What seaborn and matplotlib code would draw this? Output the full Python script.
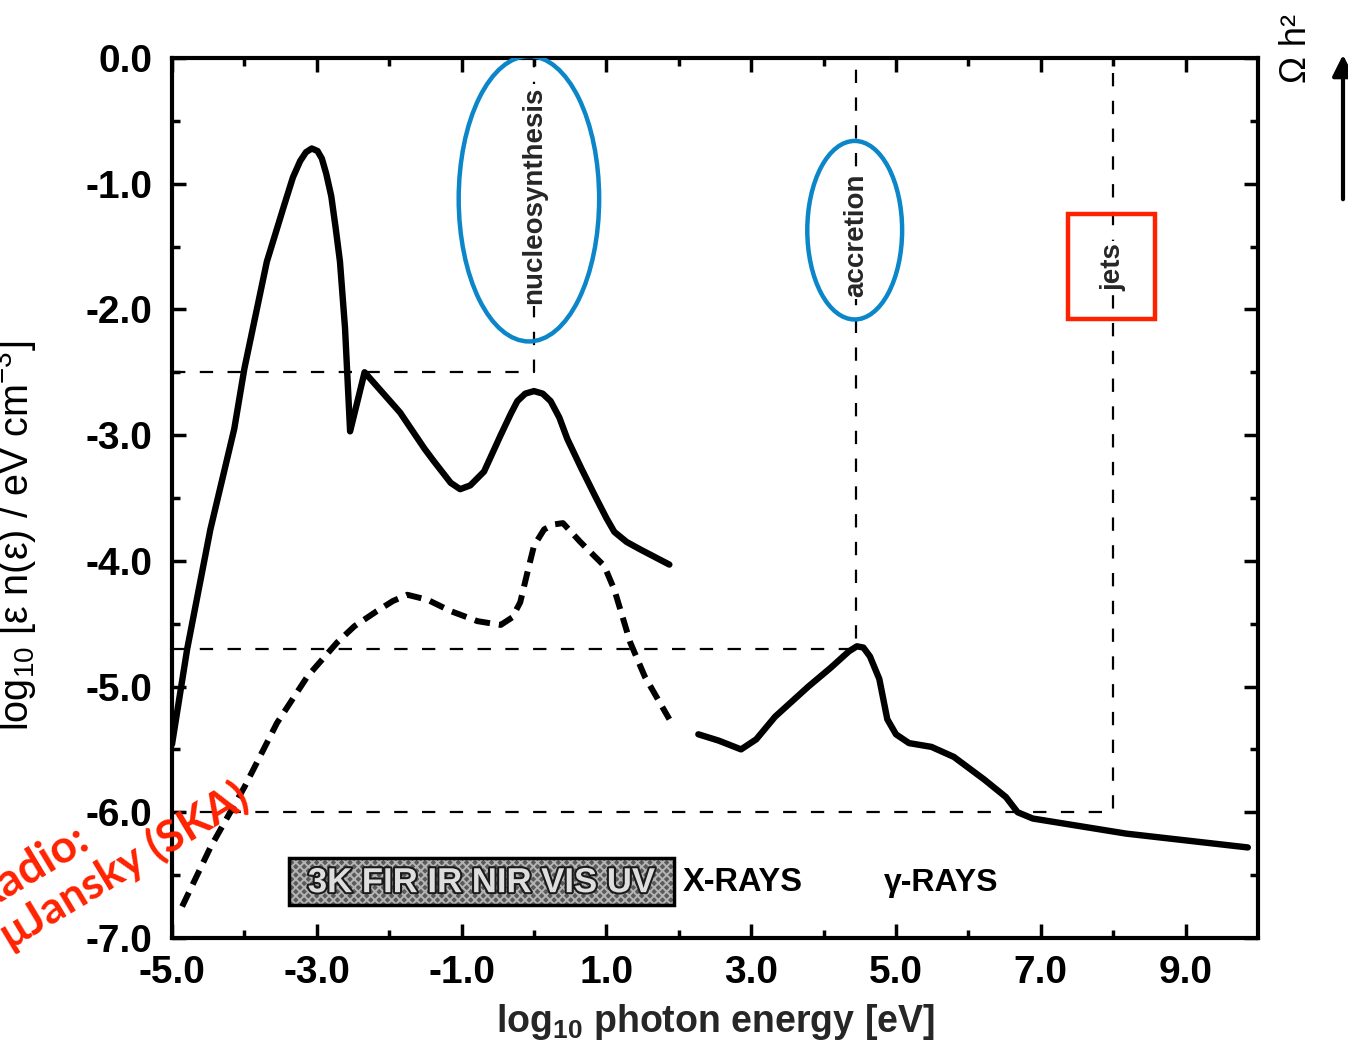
import numpy as np
import pandas as pd
import matplotlib
matplotlib.use('Agg')
import matplotlib.pyplot as plt
import seaborn as sns
from matplotlib.patches import Ellipse, Rectangle
import matplotlib.patheffects as pe

# ---------------- data ----------------
# solid curve: CMB + CIB + optical background
bg_x = [-5.0, -4.79, -4.47, -4.14, -4.0, -3.69, -3.45, -3.33, -3.23, -3.15, -3.07, -2.99,
        -2.93, -2.87, -2.80, -2.74, -2.68, -2.61, -2.54, -2.34, -1.85, -1.51, -1.38, -1.15,
        -1.02, -0.88, -0.69, -0.46, -0.32, -0.23, -0.12, 0.0, 0.12, 0.23, 0.35, 0.46, 0.65,
        0.84, 1.0, 1.11, 1.28, 1.47, 1.87]
bg_y = [-5.46, -4.70, -3.75, -2.95, -2.47, -1.62, -1.17, -0.95, -0.82, -0.75, -0.72, -0.74,
        -0.80, -0.92, -1.10, -1.35, -1.62, -2.15, -2.97, -2.50, -2.82, -3.11, -3.21, -3.38,
        -3.43, -3.40, -3.29, -3.00, -2.83, -2.73, -2.67, -2.65, -2.67, -2.73, -2.86, -3.03,
        -3.26, -3.48, -3.66, -3.77, -3.85, -3.91, -4.03]

# dashed curve
dash_x = [-4.86, -4.47, -4.0, -3.55, -3.13, -2.72, -2.48, -2.17, -1.95, -1.75, -1.47, -1.15,
          -0.78, -0.46, -0.30, -0.19, -0.09, 0.0, 0.14, 0.28, 0.40, 0.64, 0.97, 1.11, 1.33,
          1.53, 1.87]
dash_y = [-6.75, -6.28, -5.80, -5.29, -4.92, -4.65, -4.52, -4.40, -4.32, -4.27, -4.31, -4.40,
          -4.48, -4.51, -4.45, -4.33, -4.09, -3.88, -3.75, -3.71, -3.70, -3.85, -4.04, -4.23,
          -4.65, -4.92, -5.26]

# solid curve: X-ray / gamma-ray background
hi_x = [2.27, 2.55, 2.86, 3.07, 3.33, 3.79, 4.10, 4.35, 4.46, 4.55, 4.64, 4.77, 4.88, 5.00,
        5.18, 5.49, 5.80, 6.22, 6.52, 6.68, 6.89, 8.18, 9.86]
hi_y = [-5.38, -5.43, -5.50, -5.42, -5.24, -5.00, -4.85, -4.72, -4.68, -4.69, -4.76, -4.94,
        -5.26, -5.38, -5.45, -5.48, -5.56, -5.74, -5.88, -6.00, -6.05, -6.17, -6.28]

# reference (dashed) corner lines: vertical at x, horizontal at y
ref_x = [0.0, 4.45, 8.0]
ref_y = [-2.5, -4.7, -6.0]
ref_names = ['nucleosynthesis', 'accretion', 'jets']
ref_label_y = [-1.09, -1.41, -1.66]

xtick_vals = [-5, -3, -1, 1, 3, 5, 7, 9]
xtick_labels = ['-5.0', '-3.0', '-1.0', '1.0', '3.0', '5.0', '7.0', '9.0']
ytick_vals = [0, -1, -2, -3, -4, -5, -6, -7]
ytick_labels = ['0.0', '-1.0', '-2.0', '-3.0', '-4.0', '-5.0', '-6.0', '-7.0']

band_label = '3K FIR IR NIR VIS UV'
xray_label = 'X-RAYS'
gamma_label = 'γ-RAYS'

# ---------------- style ----------------
sns.set_theme(style='ticks')
plt.rcParams['font.family'] = ['Liberation Sans', 'DejaVu Sans']
plt.rcParams['mathtext.fontset'] = 'custom'
plt.rcParams['mathtext.rm'] = 'Liberation Sans'
plt.rcParams['mathtext.it'] = 'Liberation Sans:italic'
plt.rcParams['mathtext.bf'] = 'Liberation Sans:bold'
plt.rcParams['axes.unicode_minus'] = False
plt.rcParams['hatch.linewidth'] = 1.4

fig = plt.figure(figsize=(13.48, 10.52), dpi=100)
fig.patch.set_facecolor('white')
ax = fig.add_axes([0.1276, 0.1084, 0.8056, 0.8365])
ax.set_facecolor('white')

# curves
sns.lineplot(x=bg_x, y=bg_y, ax=ax, color='black', lw=4.6, sort=False, estimator=None,
             solid_joinstyle='round', solid_capstyle='round')
sns.lineplot(x=dash_x, y=dash_y, ax=ax, color='black', lw=4.3, sort=False, estimator=None)
ax.lines[-1].set_dashes([2.6, 1.5])
sns.lineplot(x=hi_x, y=hi_y, ax=ax, color='black', lw=4.6, sort=False, estimator=None,
             solid_joinstyle='round', solid_capstyle='round')

# reference corner lines
for rx, ry in zip(ref_x, ref_y):
    ln, = ax.plot([-5, rx, rx], [ry, ry, 0], color='black', lw=1.6)
    ln.set_dashes([6, 6.5])

# rotated labels on vertical lines
for rx, name, ly in zip(ref_x, ref_names, ref_label_y):
    ax.text(rx, ly, name, rotation=90, ha='center', va='center', fontsize=20,
            fontweight='bold', zorder=5,
            bbox=dict(facecolor='white', edgecolor='none', pad=1.5))

# ellipses / rectangle annotations
blue = '#0a86c9'
ax.add_patch(Ellipse((-0.07, -1.12), 1.94, 2.27, fill=False, edgecolor=blue, lw=3.2, zorder=6))
ax.add_patch(Ellipse((4.43, -1.37), 1.31, 1.42, fill=False, edgecolor=blue, lw=3.2, zorder=6))
ax.add_patch(Rectangle((7.38, -2.08), 1.2, 0.84, fill=False, edgecolor='#ff2200', lw=3.2, zorder=6))

# band box
ax.add_patch(Rectangle((-3.38, -6.74), 5.31, 0.38, facecolor='#5a5a5a', edgecolor='#b4b4b4',
                       hatch='xxxx', lw=0, zorder=3))
ax.add_patch(Rectangle((-3.38, -6.74), 5.31, 0.38, fill=False, edgecolor='black', lw=2.5, zorder=4))
ax.text(-0.72, -6.56, band_label, ha='center', va='center', fontsize=25, fontweight='bold',
        color='#dedede', zorder=5,
        path_effects=[pe.withStroke(linewidth=3, foreground='#1a1a1a')])
ax.text(2.06, -6.56, xray_label, ha='left', va='center', fontsize=23.5, fontweight='bold', color='black')
ax.text(5.63, -6.56, gamma_label, ha='center', va='center', fontsize=23, fontweight='bold', color='black')

# axes
ax.set_xlim(-5, 10)
ax.set_ylim(-7, 0)
ax.set_xticks(xtick_vals)
ax.set_xticklabels(xtick_labels)
ax.set_xticks([-4, -2, 0, 2, 4, 6, 8], minor=True)
ax.set_yticks(ytick_vals)
ax.set_yticklabels(ytick_labels)
ax.set_yticks([-6.5, -5.5, -4.5, -3.5, -2.5, -1.5, -0.5], minor=True)
ax.tick_params(which='both', direction='in', top=True, right=True, width=2.5, colors='black')
ax.tick_params(which='major', length=10)
ax.tick_params(which='minor', length=6)
ax.tick_params(axis='x', which='major', pad=12, labelsize=28)
ax.tick_params(axis='y', which='major', pad=14, labelsize=28)
for lab in ax.get_xticklabels() + ax.get_yticklabels():
    lab.set_fontweight('bold')
for sp in ax.spines.values():
    sp.set_linewidth(3)
    sp.set_color('black')
ax.set_xlabel(r'log$_\mathbf{10}$ photon energy [eV]', fontsize=27, fontweight='bold', labelpad=8)
ax.set_ylabel('')

# y label (partly cut by the figure edge, as in the original scan)
fig.text(28 / 1348, 1 - 536 / 1052, r'log$_{10}$ [ε n(ε) / eV cm$^{-3}$]', rotation=90,
         rotation_mode='anchor', ha='center', va='baseline', fontsize=28.5, color='black')

# right side Omega h^2 and arrow
fig.text(1296 / 1348, 1 - 48 / 1052, 'Ω h²', rotation=90, ha='center', va='center',
         fontsize=26, color='black')
ax.annotate('', xy=(1343, 1052 - 52), xytext=(1343, 1052 - 202), xycoords='figure pixels',
            textcoords='figure pixels', annotation_clip=False,
            arrowprops=dict(arrowstyle='-|>', lw=3, color='black', mutation_scale=32))

# red hand annotation
red = '#ff2200'
fig.text(-19 / 1348, 1 - 912 / 1052, 'Radio:', rotation=31, rotation_mode='anchor',
         ha='left', va='baseline', fontsize=33, fontweight='bold', color=red,
         family=['Lato', 'DejaVu Sans'])
fig.text(10 / 1348, 1 - 950 / 1052, 'μJansky (SKA)', rotation=31, rotation_mode='anchor',
         ha='left', va='baseline', fontsize=32, fontweight='bold', color=red,
         family=['Lato', 'DejaVu Sans'])

fig.savefig('out.png', dpi=100, facecolor='white')
